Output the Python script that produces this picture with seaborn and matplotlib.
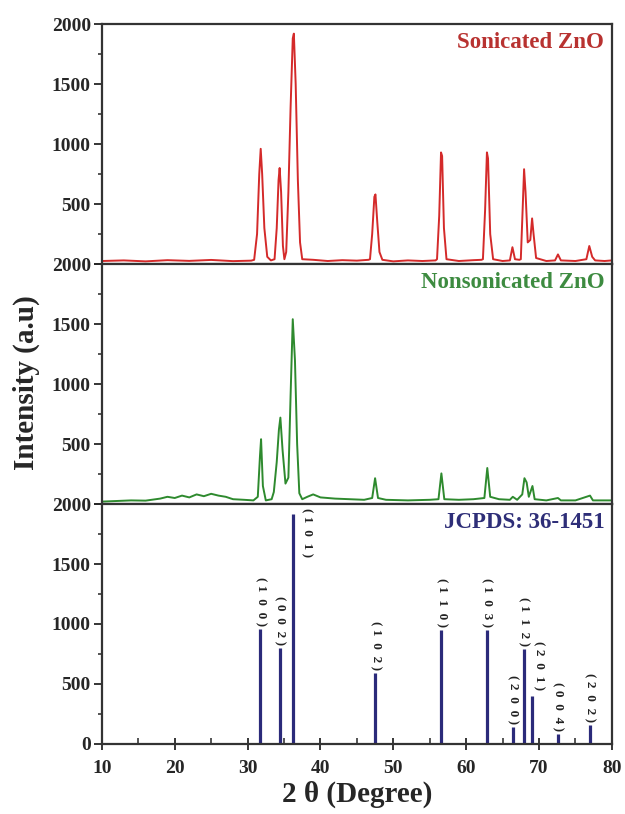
"""XRD patterns of sonicated / nonsonicated ZnO with JCPDS reference sticks."""

import matplotlib

matplotlib.use("Agg")

import matplotlib.pyplot as plt  # noqa: E402
import seaborn as sns  # noqa: E402
from matplotlib.ticker import MultipleLocator  # noqa: E402

# Sonicated ZnO profile (2theta, intensity)
soni_x = [10, 13, 16, 19, 22, 25, 28, 30.5,
          30.9, 31.3, 31.6, 31.8, 32.0, 32.3, 32.7, 33.2,
          33.7, 34.0, 34.25, 34.4, 34.6, 34.85, 35.05,
          35.3, 35.6, 35.9, 36.2, 36.35, 36.6, 36.9, 37.2, 37.5,
          39, 41, 43, 45, 46.6,
          46.8, 47.1, 47.4, 47.55, 47.8, 48.1, 48.5,
          50, 52, 54, 55.8,
          56.0, 56.3, 56.55, 56.7, 56.95, 57.3,
          59, 61, 62.1,
          62.3, 62.6, 62.85, 63.0, 63.3, 63.7,
          65, 66.0, 66.35, 66.7, 67.3,
          67.5, 67.75, 67.95, 68.15, 68.45, 68.8, 69.05, 69.25, 69.6,
          71, 72.2, 72.6, 73.0, 75, 76.5, 76.9, 77.3, 77.7, 79, 80]
soni_y = [25, 30, 22, 32, 26, 34, 24, 28,
          35, 250, 750, 960, 750, 300, 60, 30,
          40, 300, 700, 800, 600, 150, 40,
          100, 600, 1300, 1880, 1920, 1500, 700, 180, 40,
          35, 25, 32, 28, 35,
          40, 250, 560, 580, 350, 100, 35,
          22, 30, 25, 30,
          40, 400, 930, 900, 300, 40,
          25, 32, 35,
          40, 450, 930, 880, 250, 40,
          25, 30, 140, 40, 35,
          40, 450, 790, 600, 180, 200, 380, 250, 50,
          25, 30, 80, 30, 25, 40, 150, 60, 30, 25, 30]

# Nonsonicated ZnO profile
non_x = [10, 12, 14, 16, 18, 19, 20, 21, 22, 23, 24, 25, 26, 27, 28, 29.5, 30.8,
         31.4, 31.7, 31.85, 32.1, 32.5, 33.3,
         33.6, 34.0, 34.3, 34.5, 34.8, 35.2, 35.6, 35.9, 36.2, 36.5, 36.8, 37.1, 37.5,
         38.2, 39, 40, 42, 44, 46, 47.1, 47.5, 47.9, 49, 52, 55,
         56.2, 56.6, 57.0, 59, 61, 62.5, 62.9, 63.3, 64.5, 66.0, 66.4, 67,
         67.7, 68.0, 68.3, 68.6, 69.1, 69.4, 71, 72.6, 73, 75, 77, 77.4, 80]
non_y = [20, 25, 30, 28, 45, 60, 50, 70, 55, 80, 65, 85, 70, 60, 40, 35, 30,
         60, 400, 540, 150, 30, 40,
         100, 350, 620, 720, 450, 170, 220, 900, 1540, 1200, 500, 90, 40,
         60, 80, 55, 45, 40, 35, 50, 215, 50, 35, 30, 35,
         40, 255, 40, 35, 40, 50, 300, 60, 40, 35, 60, 35,
         80, 215, 180, 60, 150, 40, 30, 50, 30, 30, 70, 30, 30]

# JCPDS 36-1451 reference lines
ref_pos = [31.77, 34.42, 36.25, 47.54, 56.60, 62.86, 66.38, 67.96, 69.10, 72.56, 76.95]
ref_int = [960, 800, 1920, 590, 950, 950, 140, 790, 400, 80, 155]
ref_hkl = ["100", "002", "101", "102", "110", "103", "200", "112", "201", "004", "202"]

panel_names = ["Sonicated ZnO", "Nonsonicated ZnO", "JCPDS: 36-1451"]

line_colors = ["#d42a2a", "#2e8a2e", "#2b2a7a"]
text_colors = ["#b83230", "#3d8b40", "#2e2e78"]

sns.set_theme(style="ticks")
plt.rcParams["font.family"] = ["Liberation Serif", "DejaVu Serif"]
plt.rcParams["font.weight"] = "bold"

fig = plt.figure(figsize=(6.25, 8.14), dpi=100)
left, right, top, bottom = 0.163, 0.979, 0.9705, 0.086
h = (top - bottom) / 3
axes = [fig.add_axes([left, top - (i + 1) * h, right - left, h]) for i in range(3)]

sns.lineplot(x=soni_x, y=soni_y, ax=axes[0], color=line_colors[0], lw=1.4,
             estimator=None, sort=False)
sns.lineplot(x=non_x, y=non_y, ax=axes[1], color=line_colors[1], lw=1.4,
             estimator=None, sort=False)
axes[2].vlines(ref_pos, 0, ref_int, color=line_colors[2], lw=2.3)

# hkl labels above sticks (vertical, reading top to bottom)
for pos, inten, hkl in zip(ref_pos, ref_int, ref_hkl):
    lab = "( " + "  ".join(hkl) + " )"
    if hkl == "101":
        axes[2].text(pos + 1.9, 1965, lab, rotation=270, ha="center", va="top",
                     fontsize=9.5, fontweight="bold", color="#222")
        continue
    x = pos + 0.9 if hkl == "201" else pos
    y = inten + 50 if hkl == "201" else inten + 25
    axes[2].text(x, y, lab, rotation=270, ha="center", va="bottom",
                 fontsize=9.5, fontweight="bold", color="#222")

for i, ax in enumerate(axes):
    ax.set_xlim(10, 80)
    ax.set_ylim(0, 2000)
    ax.yaxis.set_major_locator(MultipleLocator(500))
    ax.yaxis.set_minor_locator(MultipleLocator(250))
    ax.tick_params(axis="y", which="major", direction="out", length=6, width=1.3,
                   labelsize=14, pad=2)
    ax.tick_params(axis="y", which="minor", direction="out", length=3, width=1.1)
    for sp in ax.spines.values():
        sp.set_linewidth(1.6)
        sp.set_color("#333")
    ax.set_xlabel("")
    ax.set_ylabel("")
    ax.text(0.985, 0.965, panel_names[i], transform=ax.transAxes, ha="right", va="top",
            fontsize=16.5, fontweight="bold", color=text_colors[i])
    if i < 2:
        ax.tick_params(axis="x", which="both", bottom=False, labelbottom=False)
        ax.set_yticks([0, 500, 1000, 1500, 2000])
        ax.set_yticklabels(["", "500", "1000", "1500", "2000"])
    for lbl in ax.get_yticklabels():
        lbl.set_fontweight("bold")

ax = axes[2]
ax.xaxis.set_major_locator(MultipleLocator(10))
ax.xaxis.set_minor_locator(MultipleLocator(5))
ax.tick_params(axis="x", which="major", direction="inout", length=9, width=1.3,
               labelsize=14, pad=7)
ax.tick_params(axis="x", which="minor", direction="in", length=4, width=1.1)
for lbl in ax.get_xticklabels() + ax.get_yticklabels():
    lbl.set_fontweight("bold")
ax.set_xlabel("2 θ (Degree)", fontsize=21, fontweight="bold", labelpad=3)

fig.text(0.042, 0.53, "Intensity (a.u)", rotation=90, ha="center", va="center",
         fontsize=21, fontweight="bold")

fig.savefig("out.png", dpi=100)
plt.close(fig)
